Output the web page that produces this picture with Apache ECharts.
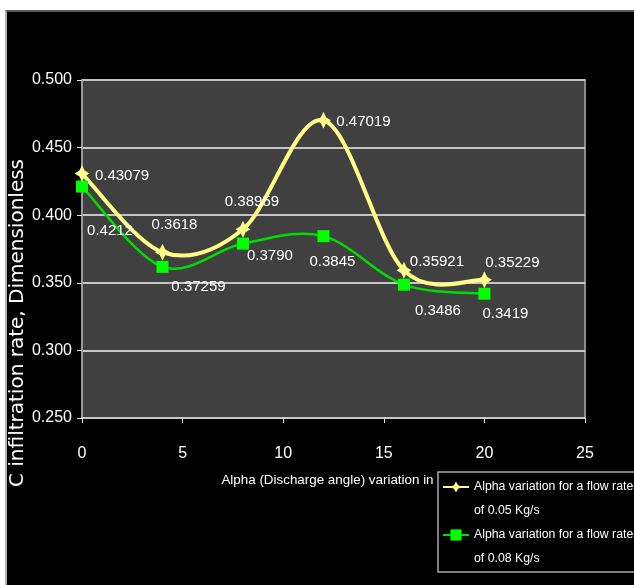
<!DOCTYPE html>
<html>
<head>
<meta charset="utf-8">
<script src="https://cdn.jsdelivr.net/npm/echarts@6/dist/echarts.min.js"></script>
<style>
  html, body { margin: 0; padding: 0; background: #ffffff; width: 634px; height: 585px; overflow: hidden; }
  #frame { position: absolute; left: 5px; top: 10px; right: 0; bottom: 0; background: #000;
           border-left: 2px solid #b0b0b0; border-top: 2px solid #5a5a5a; }
  #chart { position: absolute; left: 0; top: 0; width: 634px; height: 585px; }
</style>
</head>
<body>
<div id="frame"></div>
<div id="chart"></div>
<script>
// Discharge angle (degrees)
const alpha = [0, 4, 8, 12, 16, 20];
// C infiltration rate for 0.05 Kg/s
const rate005 = [0.43079, 0.37259, 0.38959, 0.47019, 0.35921, 0.35229];
// C infiltration rate for 0.08 Kg/s
const rate008 = [0.4212, 0.3618, 0.3790, 0.3845, 0.3486, 0.3419];
const labels005 = ['0.43079', '0.37259', '0.38959', '0.47019', '0.35921', '0.35229'];
const labels008 = ['0.4212', '0.3618', '0.3790', '0.3845', '0.3486', '0.3419'];
const seriesNames = ['Alpha variation for a flow rate\nof 0.05 Kg/s', 'Alpha variation for a flow rate\nof 0.08 Kg/s'];
const yTicks = [0.25, 0.5, 0.05];
const xTicks = [0, 25, 5];

// label offsets from each marker centre
const off005 = [[40, 2], [36, 35], [9, -27], [40, 2], [33, -8], [28, -17]];
const off008 = [[28, 44], [12, -42], [27, 12], [9, 26], [34, 26], [21, 20]];

const FONT = "'Liberation Sans', Arial, sans-serif";
const star = 'path://M0,-10 L3.5,-3.5 L10,0 L3.5,3.5 L0,10 L-3.5,3.5 L-10,0 L-3.5,-3.5 Z';

function points(ys, texts, offs) {
  return alpha.map((x, i) => ({
    value: [x, ys[i]],
    label: { show: true, formatter: texts[i], position: 'inside', offset: offs[i] }
  }));
}

// Cardinal (Catmull-Rom) spline through the points, one bezier segment per item
function spline(ys, color, width, z) {
  const n = alpha.length;
  const at = (api, k) => {
    const j = Math.max(0, Math.min(n - 1, k));
    return api.coord([alpha[j], ys[j]]);
  };
  return {
    type: 'custom', silent: true, z: z,
    data: alpha.map((x, i) => [x, ys[i]]),
    renderItem(params, api) {
      const i = params.dataIndex;
      if (i >= n - 1) return null;
      const p0 = at(api, i - 1), p1 = at(api, i), p2 = at(api, i + 1), p3 = at(api, i + 2);
      return {
        type: 'bezierCurve',
        shape: {
          x1: p1[0], y1: p1[1],
          cpx1: p1[0] + (p2[0] - p0[0]) / 6, cpy1: p1[1] + (p2[1] - p0[1]) / 6,
          cpx2: p2[0] - (p3[0] - p1[0]) / 6, cpy2: p2[1] - (p3[1] - p1[1]) / 6,
          x2: p2[0], y2: p2[1]
        },
        style: { stroke: color, lineWidth: width, fill: null, lineCap: 'round' }
      };
    }
  };
}

const labelStyle = { color: '#ffffff', fontFamily: FONT, fontSize: 15, align: 'center', verticalAlign: 'middle' };

const chart = echarts.init(document.getElementById('chart'), null, { renderer: 'canvas' });
chart.setOption({
  animation: false,
  backgroundColor: 'transparent',
  grid: {
    left: 82, top: 80, width: 503, height: 338,
    show: true, backgroundColor: '#404040', borderColor: '#8a8a8a', borderWidth: 2
  },
  xAxis: {
    type: 'value', min: xTicks[0], max: xTicks[1], interval: xTicks[2],
    name: 'Alpha (Discharge angle) variation in',
    nameLocation: 'middle', nameGap: 56,
    nameTextStyle: { color: '#ffffff', fontFamily: FONT, fontSize: 13.4, padding: [0, 12, 0, 0] },
    axisLine: { lineStyle: { color: '#c8c8c8', width: 2 } },
    axisTick: { show: true, length: 5, lineStyle: { color: '#e0e0e0', width: 1 } },
    axisLabel: { color: '#ffffff', fontFamily: FONT, fontSize: 16, margin: 28 },
    splitLine: { show: false }
  },
  yAxis: {
    type: 'value', min: yTicks[0], max: yTicks[1], interval: yTicks[2],
    axisLine: { show: true, lineStyle: { color: '#9a9a9a', width: 2 } },
    axisTick: { show: true, length: 5, lineStyle: { color: '#e0e0e0', width: 1 } },
    axisLabel: { color: '#ffffff', fontFamily: FONT, fontSize: 16, margin: 10,
                 formatter: v => v.toFixed(3) },
    splitLine: { show: true, lineStyle: { color: '#c4c4c4', width: 2 } }
  },
  legend: {
    orient: 'vertical', left: 442, top: 451, padding: 0, itemGap: -24,
    itemWidth: 26, itemHeight: 14,
    data: seriesNames,
    formatter: name => '\n' + name,
    lineStyle: { opacity: 1 },
    textStyle: { color: '#ffffff', fontFamily: FONT, fontSize: 12.3, lineHeight: 24 }
  },
  graphic: [
    { type: 'rect', z: -1, silent: true,
      shape: { x: 438, y: 472, width: 210, height: 100 },
      style: { fill: '#000000', stroke: '#a8a8a8', lineWidth: 1.5 } },
    { type: 'text', silent: true, x: 18, y: 323, rotation: Math.PI / 2,
      style: { text: 'C infiltration rate, Dimensionless', fill: '#ffffff',
               font: "20px 'DejaVu Sans', sans-serif", align: 'center', verticalAlign: 'middle' } }
  ],
  series: [
    spline(rate008, '#00dd00', 2.5, 2),
    spline(rate005, '#ffff88', 4, 3),
    {
      name: seriesNames[0], type: 'line', z: 5,
      data: points(rate005, labels005, off005),
      symbol: star, symbolSize: [15, 17],
      lineStyle: { color: '#ffff88', width: 3, opacity: 0 },
      itemStyle: { color: '#ffff88' },
      label: labelStyle
    },
    {
      name: seriesNames[1], type: 'line', z: 4,
      data: points(rate008, labels008, off008),
      symbol: 'rect', symbolSize: 12,
      lineStyle: { color: '#00dd00', width: 2.5, opacity: 0 },
      itemStyle: { color: '#00ff00' },
      label: labelStyle
    }
  ]
});
</script>
</body>
</html>
